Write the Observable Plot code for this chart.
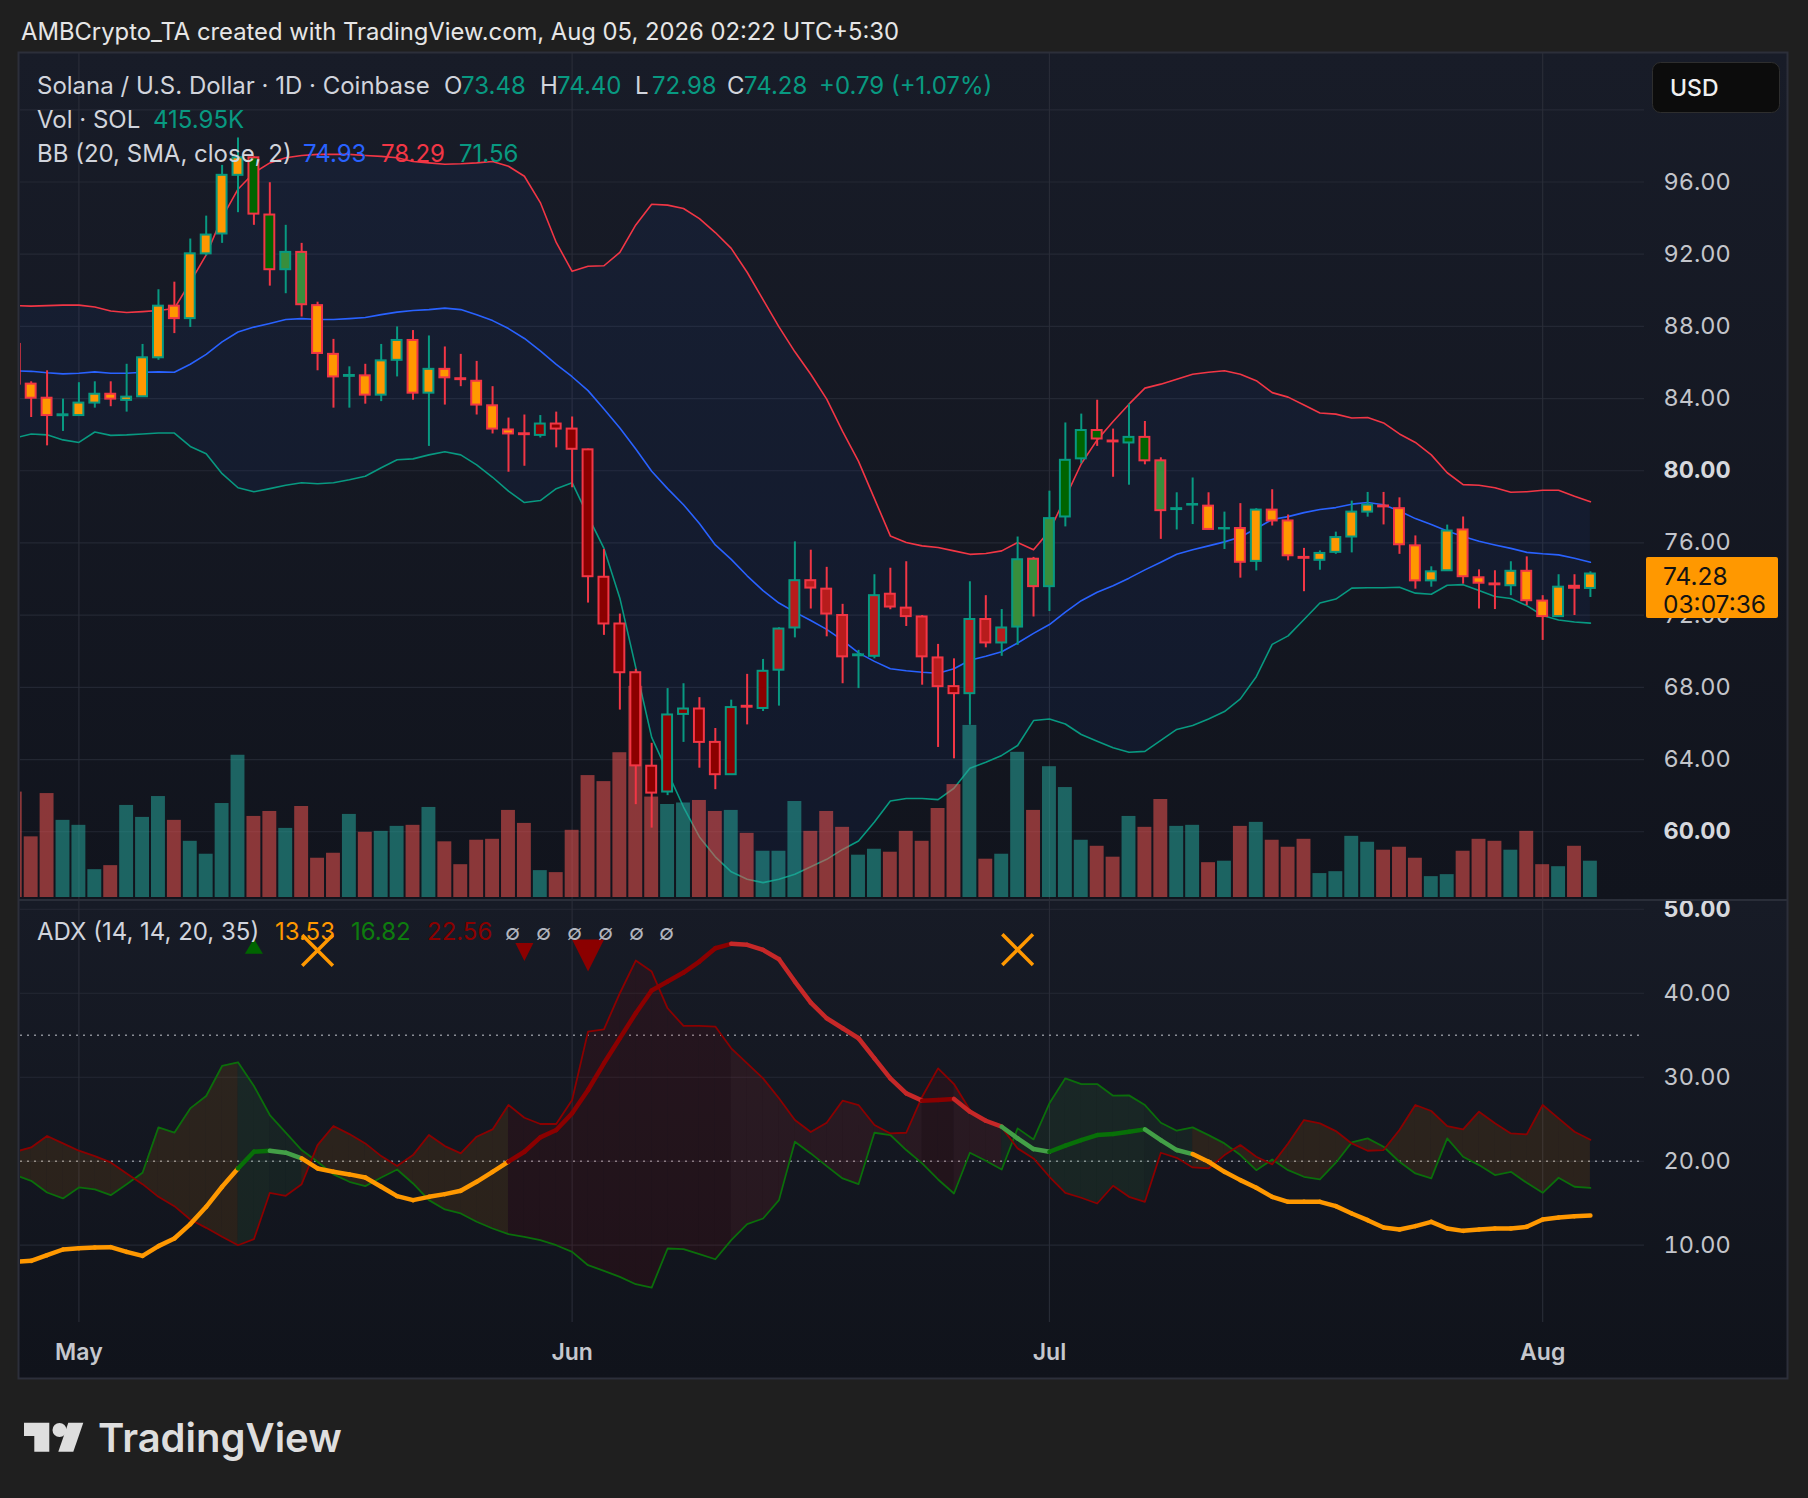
<!DOCTYPE html>
<html><head><meta charset="utf-8">
<script src="https://cdn.jsdelivr.net/npm/d3@7"></script>
<script src="https://cdn.jsdelivr.net/npm/@observablehq/plot@0.6"></script>
<style>
html,body{margin:0;padding:0;background:#1f1f1f;}
#root{position:relative;width:1808px;height:1498px;overflow:hidden;background:#1f1f1f;font-family:Inter,"Noto Sans",sans-serif;}
#root svg{position:absolute;left:0;}
.pane{position:absolute;}
</style></head><body><div id="root"></div>
<script>
// ---------------- DATA ----------------
const startDay = "2026-04-27"; // daily candles, one per day
const open = [87.0,84.8,84.02,83.05,83.06,83.75,84.24,83.9,84.1,86.26,
89.12,88.43,92.02,93.12,96.37,97.34,94.17,91.14,92.1,89.15,
86.45,85.23,85.26,84.19,86.12,87.22,84.3,85.62,85.1,84.96,
83.6,82.26,82.05,81.96,82.59,82.31,81.16,74.1,71.51,68.81,
63.63,62.2,66.5,66.8,64.95,63.16,66.95,66.83,68.95,71.29,
73.91,73.44,71.98,69.75,69.72,73.16,72.39,71.9,69.63,68.04,
67.65,71.76,70.46,71.34,75.1,73.58,77.44,80.66,82.23,81.65,
81.54,81.85,80.55,77.85,78.1,78.04,76.78,76.8,74.98,77.82,
77.22,75.2,75.04,75.48,76.33,77.71,78.05,77.9,75.84,73.9,
74.46,76.72,74.07,73.73,73.63,74.43,72.78,71.92,73.6,73.48];
const high = [87.3,84.93,85.54,83.97,84.88,84.93,84.93,85.9,87.0,90.03,
90.45,92.84,94.11,96.92,98.44,97.4,95.96,93.6,92.6,89.34,
87.28,85.76,85.9,87.0,87.97,87.77,87.47,86.86,86.45,86.06,
84.66,82.92,83.09,83.06,83.25,82.98,81.2,75.64,72.06,69.0,
64.9,67.93,68.2,67.43,65.72,67.29,68.72,69.55,71.3,76.06,
75.6,74.65,72.6,70.05,74.24,74.6,74.96,71.98,70.38,69.58,
73.85,73.08,72.31,76.33,75.2,78.87,82.65,83.14,83.91,82.31,
83.69,82.73,80.72,78.78,79.6,78.78,77.71,78.18,77.9,78.95,
77.55,75.7,75.56,76.6,78.32,78.8,78.8,78.5,76.39,74.68,
76.99,77.44,74.51,74.46,74.96,75.23,73.08,74.24,74.24,74.40];
const low = [84.5,82.95,81.38,82.18,83.06,83.47,83.55,83.25,84.1,86.12,
87.6,87.94,91.9,92.6,94.3,93.6,90.23,89.81,88.52,85.54,
83.47,83.47,83.69,83.83,85.2,83.91,81.35,83.64,84.66,83.09,
82.04,79.92,80.25,81.82,81.27,79.06,72.67,70.88,66.74,61.5,
60.2,62.0,64.95,63.52,62.33,63.16,65.92,66.66,66.96,70.74,
72.34,70.8,68.2,67.93,69.58,72.3,71.37,68.12,64.67,64.04,
65.9,70.19,69.72,70.33,71.9,72.2,76.89,80.39,81.35,79.64,
79.2,80.33,76.2,76.72,77.02,76.75,75.64,74.05,74.45,76.94,
75.01,73.3,74.49,75.37,75.45,77.43,77.0,75.37,73.44,73.55,
74.46,73.72,72.34,72.31,73.08,72.53,70.6,71.92,71.98,72.98];
const close = [84.8,84.02,83.06,83.1,83.75,84.24,83.97,84.08,86.26,89.12,
88.43,92.02,93.06,96.37,97.34,94.22,91.14,92.1,89.2,86.5,
85.2,85.28,84.19,86.09,87.22,84.3,85.62,85.15,85.05,83.64,
82.31,82.04,82.0,82.59,82.31,81.19,74.13,71.51,68.81,63.65,
62.14,66.47,66.8,64.95,63.16,66.88,66.9,68.89,71.23,73.91,
73.5,72.06,69.69,69.8,73.08,72.45,71.92,69.69,68.04,67.65,
71.76,70.46,71.29,75.07,73.58,77.35,80.58,82.23,81.76,81.6,
81.85,80.55,77.79,77.9,78.13,76.75,76.8,74.93,77.82,77.22,
75.29,75.15,75.42,76.3,77.71,78.1,78.0,75.9,73.9,74.4,
76.66,74.13,73.77,73.68,74.43,72.8,71.92,73.55,73.49,74.28];
// volume in thousand SOL
const volumeK = [1208,695,1191,884,827,319,365,1055,918,1157,
884,644,496,1077,1630,929,986,792,1043,450,
507,952,747,758,815,827,1032,638,376,656,
667,998,849,308,285,770,1397,1328,1659,2420,
1151,1066,1083,1112,986,998,735,530,530,1100,
758,986,804,485,553,519,758,644,1020,1294,
1972,439,496,1664,998,1499,1260,656,587,462,
929,804,1123,815,827,399,416,815,861,656,
576,667,274,296,701,633,542,576,450,239,
262,530,667,644,542,758,376,353,587,415.95];
// candle body colour code: o orange, G dark green, g green, R dark red, r red
const bodyCode = ("ooooooooooooooo"+"GG"+"gg"+"oooooooooooooo"+"RRRRRRRRRRRRRRR"+
  "rrrrrrrrrrr"+"R"+"rrr"+"ggg"+"GGGGGG"+"ggg"+"ooooooooooooooooooooooooo").split("");
const bbUpper = [89.15,89.12,89.15,89.18,89.18,89.07,88.85,88.77,88.82,88.88,
88.99,90.45,91.96,94.03,95.60,96.51,97.06,97.34,97.47,97.53,
97.53,97.53,97.47,97.42,97.34,97.14,97.06,96.98,97.01,97.06,
97.14,96.87,96.32,94.86,92.65,91.05,91.33,91.36,92.10,93.62,
94.77,94.72,94.53,93.97,93.20,92.32,91.00,89.48,87.97,86.59,
85.35,83.97,82.18,80.52,78.46,76.39,76.03,75.84,75.75,75.56,
75.37,75.42,75.56,76.03,75.62,76.67,78.51,80.39,81.71,82.73,
83.69,84.58,84.80,85.07,85.35,85.46,85.54,85.35,84.99,84.33,
84.08,83.64,83.20,83.14,82.92,82.95,82.65,82.04,81.57,80.88,
79.89,79.23,79.20,79.06,78.81,78.84,78.92,78.92,78.59,78.29];
const bbBasis = [85.54,85.51,85.43,85.37,85.40,85.48,85.40,85.40,85.46,85.48,
85.46,85.90,86.45,87.14,87.69,87.96,88.16,88.38,88.43,88.38,
88.38,88.43,88.49,88.65,88.79,88.88,88.93,89.01,88.93,88.65,
88.32,87.88,87.33,86.64,85.90,85.21,84.44,83.42,82.37,81.21,
79.97,79.01,78.12,77.08,75.89,75.09,74.18,73.36,72.67,72.17,
71.70,71.21,70.60,69.91,69.44,69.03,68.92,68.84,68.78,69.03,
69.50,69.72,69.97,70.46,70.99,71.48,72.17,72.80,73.27,73.63,
74.05,74.51,74.93,75.37,75.62,75.84,76.06,76.33,76.80,77.30,
77.46,77.68,77.85,77.96,78.15,78.24,78.12,77.77,77.35,77.02,
76.66,76.36,76.09,75.89,75.70,75.48,75.40,75.34,75.15,74.93];
const bbLower = [81.82,82.04,81.99,81.71,81.57,82.15,81.96,81.99,82.04,82.09,
82.09,81.35,80.94,79.84,79.06,78.84,79.01,79.20,79.34,79.28,
79.34,79.50,79.70,80.17,80.61,80.66,80.88,81.05,80.88,80.33,
79.64,78.87,78.24,78.35,79.01,79.34,77.49,75.70,72.94,69.09,
65.23,63.30,61.37,59.71,58.61,57.78,57.37,57.18,57.37,57.65,
58.06,58.47,59.02,59.49,60.54,61.70,61.84,61.84,61.78,62.41,
63.52,63.85,64.23,64.78,66.16,66.25,65.97,65.39,65.01,64.65,
64.40,64.45,65.06,65.67,65.89,66.25,66.66,67.36,68.59,70.38,
70.85,71.76,72.67,72.89,73.50,73.52,73.52,73.55,73.22,73.16,
73.66,73.69,73.36,73.03,72.92,72.53,71.98,71.73,71.62,71.56];
const adx = [8.02,8.14,8.81,9.49,9.65,9.73,9.77,9.21,8.73,9.89,
10.80,12.51,14.57,16.96,19.14,21.13,21.25,21.01,20.33,19.14,
18.74,18.43,18.07,16.96,15.84,15.37,15.76,16.08,16.48,17.55,
18.74,19.95,21.13,22.84,23.71,25.70,28.48,31.66,34.64,37.62,
40.32,41.39,42.46,43.77,45.36,45.88,45.76,45.16,44.05,41.39,
38.89,37.02,35.83,34.64,32.25,29.87,28.08,27.21,27.29,27.41,
25.90,24.82,24.11,22.72,21.45,21.13,21.86,22.52,23.11,23.23,
23.51,23.79,22.52,21.33,20.85,19.94,18.74,17.75,16.84,15.76,
15.17,15.17,15.17,14.65,13.78,12.98,12.11,11.87,12.27,12.78,
11.99,11.71,11.87,11.99,11.99,12.19,13.06,13.30,13.46,13.53];
const diPlus = [18.35,17.67,16.28,15.57,16.88,16.64,15.96,17.27,18.63,24.03,
23.40,26.29,27.76,31.34,31.78,28.96,25.50,23.40,21.33,19.94,
18.43,17.55,17.04,18.07,19.02,17.35,15.37,14.26,13.78,12.79,
11.99,11.31,11.00,10.60,10.00,9.21,7.62,6.94,6.23,5.36,
4.96,9.61,9.53,8.93,8.33,10.60,12.51,13.18,15.37,22.32,
20.93,19.42,17.95,17.27,23.39,23.12,21.33,19.74,17.83,16.16,
21.01,20.06,19.02,23.91,22.60,26.89,29.87,29.19,29.19,27.80,
27.84,26.69,24.58,23.63,24.03,23.11,22.12,20.73,18.94,20.21,
18.94,18.15,17.83,19.82,22.24,22.72,21.72,19.94,18.55,17.95,
22.72,20.53,19.54,18.35,18.74,17.43,16.24,18.03,16.96,16.82];
const diMinus = [21.13,21.64,23.00,22.12,21.25,20.61,19.86,18.55,17.27,15.76,
14.65,13.06,12.07,11.00,10.00,10.72,16.24,15.88,17.27,21.92,
24.19,23.23,22.12,20.61,19.42,20.73,23.12,21.80,20.93,22.92,
23.79,26.69,25.18,24.43,24.43,27.29,35.43,35.71,40.00,43.89,
42.58,38.21,36.11,36.11,36.03,33.44,31.66,29.87,27.49,24.90,
23.47,24.58,27.21,26.69,24.31,23.31,23.39,27.68,31.06,29.19,
26.09,24.82,24.03,21.53,20.33,18.15,16.24,15.65,14.97,17.08,
15.76,15.17,21.01,20.41,19.26,19.14,20.73,21.92,20.53,19.62,
22.12,24.90,24.51,23.59,22.12,21.25,21.33,23.71,26.69,25.98,
24.19,23.79,25.90,24.51,23.31,23.19,26.69,25.10,23.51,22.56];
const signalDate = ["2026-05-12","2026-05-16","2026-05-29","2026-06-02","2026-06-29"];
const signalType = ["up","cross","down","downBig","cross"];
const signalY = [45.6,45.1,44.9,44.5,45.2];
const monthTicks = ["2026-05-01","2026-06-01","2026-07-01","2026-08-01"];
const priceGrid = [60,64,68,72,76,80,84,88,92,96,100];
const priceTicks = [64,68,72,76,84,88,92,96];
const priceTicksBold = [60,80];
const adxGrid = [10,20,30,40,50];
const adxTicks = [10,20,30,40];
const adxTicksBold = [50];
const adxLevels = [35,20];

// ---------------- BUILD ----------------
const DAY = 864e5;
const day0 = new Date(startDay + "T00:00:00Z");
const months = monthTicks.map(s => new Date(s + "T00:00:00Z"));
const UP = "#089981", DN = "#f23645";
const BODY = {o:"#ff9800", G:"#006400", g:"#388e3c", R:"#8b0000", r:"#b71c1c"};
const rows = open.map((o, i) => ({
  date: new Date(+day0 + i * DAY), open: o, high: high[i], low: low[i], close: close[i],
  vol: volumeK[i], body: bodyCode[i], up: close[i] >= o,
  bbU: bbUpper[i], bbM: bbBasis[i], bbL: bbLower[i],
  adx: adx[i], dip: diPlus[i], dim: diMinus[i]
}));
rows.forEach((r, i) => {
  const prev = i > 0 ? adx[i - 1] : adx[i];
  r.state = adx[i] < 20 ? "weak" : diPlus[i] > diMinus[i]
    ? (adx[i] >= prev ? "bullUp" : "bullDn") : (adx[i] >= prev ? "bearUp" : "bearDn");
});
const LINE = {weak:"#ff9800", bullUp:"#087008", bullDn:"#43a047", bearUp:"#8b0000", bearDn:"#c62828"};
const FILL = {weak:"rgba(255,152,0,0.10)", bullUp:"rgba(76,175,80,0.10)", bullDn:"rgba(76,175,80,0.08)",
  bearUp:"rgba(139,0,0,0.13)", bearDn:"rgba(198,40,40,0.12)"};
const segs = d3.pairs(rows).map(([a, b], i) => ({a, b, i, state: b.state}));
const fillRows = segs.flatMap(s => [
  {date: s.a.date, p: s.a.dip, m: s.a.dim, seg: s.i, state: s.state},
  {date: s.b.date, p: s.b.dip, m: s.b.dim, seg: s.i, state: s.state}]);
const signals = signalDate.map((d, i) => ({date: new Date(d + "T00:00:00Z"), type: signalType[i], y: signalY[i]}));

const root = document.getElementById("root");
function pane(left, top, w, h, bg) {
  const d = document.createElement("div"); d.className = "pane";
  Object.assign(d.style, {left: left + "px", top: top + "px", width: w + "px", height: h + "px", background: bg});
  root.appendChild(d);
}
pane(19, 53, 1768, 847, "linear-gradient(to bottom,#181c28,#11141d)");
pane(19, 901, 1768, 477, "linear-gradient(to bottom,#171b26,#10131b)");

const xDomain = [new Date(Date.UTC(2026, 3, 27, 7, 54)), new Date(Date.UTC(2026, 7, 7, 9, 36))];
const FONT = "Inter, 'Noto Sans', sans-serif";
const AX = 23.5;
function base(o) {
  return Object.assign({
    width: 1808, marginLeft: 20, marginRight: 164, marginTop: 0,
    style: {background: "transparent", overflow: "visible", fontFamily: FONT, fontSize: AX + "px", color: "#c3c5cb"},
    color: {type: "identity"}
  }, o);
}
function place(svg, top) { svg.style.position = "absolute"; svg.style.left = "0px"; svg.style.top = top + "px"; root.appendChild(svg); }
const half = DAY / 2;

// price pane: grid + Bollinger bands + price axis
place(Plot.plot(base({
  height: 847, marginBottom: 0,
  x: {type: "utc", domain: xDomain, axis: null},
  y: {domain: [56.19, 103.12]},
  marks: [
    Plot.gridY(priceGrid, {stroke: "#2a2e39", strokeOpacity: 0.75, strokeWidth: 1.2}),
    Plot.gridX(months, {stroke: "#2a2e39", strokeOpacity: 0.9, strokeWidth: 1.2}),
    Plot.areaY(rows, {x: "date", y1: "bbL", y2: "bbU", fill: "#2962ff", fillOpacity: 0.06, clip: true}),
    Plot.line(rows, {x: "date", y: "bbU", stroke: DN, strokeWidth: 1.6, clip: true}),
    Plot.line(rows, {x: "date", y: "bbM", stroke: "#2962ff", strokeWidth: 1.6, clip: true}),
    Plot.line(rows, {x: "date", y: "bbL", stroke: UP, strokeWidth: 1.6, clip: true}),
    Plot.axisY(priceTicks, {anchor: "right", tickSize: 0, tickPadding: 19, tickFormat: d => d.toFixed(2), fontSize: AX, fill: "#c3c5cb", label: null}),
    Plot.axisY(priceTicksBold, {anchor: "right", tickSize: 0, tickPadding: 19, tickFormat: d => d.toFixed(2), fontSize: AX, fontWeight: "bold", fill: "#d6d8dd", label: null})
  ]
})), 53);

// volume
place(Plot.plot(base({
  height: 847, marginBottom: 3,
  x: {type: "utc", domain: xDomain, axis: null},
  y: {domain: [0, 9672], axis: null},
  marks: [
    Plot.rectY(rows, {x1: d => new Date(+d.date - half), x2: d => new Date(+d.date + half), y: "vol",
      fill: d => d.up ? "#26a69a" : "#ef5350", insetLeft: 1, insetRight: 1, clip: true, opacity: 0.55})
  ]
})), 53);

// candles
place(Plot.plot(base({
  height: 847, marginBottom: 0,
  x: {type: "utc", domain: xDomain, axis: null},
  y: {domain: [56.19, 103.12], axis: null},
  marks: [
    Plot.ruleX(rows, {x: "date", y1: "low", y2: "high", stroke: d => d.up ? UP : DN, strokeWidth: 2, clip: true}),
    Plot.rect(rows, {x1: d => new Date(+d.date - half), x2: d => new Date(+d.date + half), y1: "open", y2: "close",
      fill: d => BODY[d.body], stroke: d => d.up ? UP : DN, strokeWidth: 2, insetLeft: 3, insetRight: 3, clip: true})
  ]
})), 53);

// ADX pane
const triDown = {draw(ctx, size) { const r = Math.sqrt(size / Math.PI); ctx.moveTo(-r, -r); ctx.lineTo(r, -r); ctx.lineTo(0, r); ctx.closePath(); }};
const triUp = {draw(ctx, size) { const r = Math.sqrt(size / Math.PI); ctx.moveTo(-r, 0.85 * r); ctx.lineTo(r, 0.85 * r); ctx.lineTo(0, -0.85 * r); ctx.closePath(); }};
place(Plot.plot(base({
  height: 478, marginBottom: 56,
  x: {type: "utc", domain: xDomain},
  y: {domain: [0.80, 51.04]},
  marks: [
    Plot.gridY(adxGrid, {stroke: "#2a2e39", strokeOpacity: 0.75, strokeWidth: 1.2}),
    Plot.gridX(months, {stroke: "#2a2e39", strokeOpacity: 0.9, strokeWidth: 1.2}),
    Plot.ruleY(adxLevels, {stroke: "#8a8d96", strokeDasharray: "2,5", strokeWidth: 1.6}),
    Plot.areaY(fillRows, {x: "date", y1: "p", y2: "m", z: "seg", fill: d => FILL[d.state], clip: true}),
    Plot.line(rows, {x: "date", y: "dip", stroke: "#0b6e0b", strokeWidth: 1.8, clip: true}),
    Plot.line(rows, {x: "date", y: "dim", stroke: "#8b0000", strokeWidth: 1.8, clip: true}),
    Plot.link(segs, {x1: d => d.a.date, y1: d => d.a.adx, x2: d => d.b.date, y2: d => d.b.adx,
      stroke: d => LINE[d.state], strokeWidth: 4.5, strokeLinecap: "round", clip: true}),
    Plot.dot(signals.filter(d => d.type === "up"), {x: "date", y: "y", symbol: triUp, r: 9, fill: "#006400", stroke: null}),
    Plot.dot(signals.filter(d => d.type === "down"), {x: "date", y: "y", symbol: triDown, r: 9, fill: "#8b0000", stroke: null}),
    Plot.dot(signals.filter(d => d.type === "downBig"), {x: "date", y: "y", symbol: triDown, r: 16, fill: "#8b0000", stroke: null}),
    Plot.dot(signals.filter(d => d.type === "cross"), {x: "date", y: "y", symbol: "times", r: 14, stroke: "#ff9800", strokeWidth: 3.5, fill: "none"}),
    Plot.axisY(adxTicks, {anchor: "right", tickSize: 0, tickPadding: 19, tickFormat: d => d.toFixed(2), fontSize: AX, fill: "#c3c5cb", label: null}),
    Plot.axisY(adxTicksBold, {anchor: "right", tickSize: 0, tickPadding: 19, tickFormat: d => d.toFixed(2), fontSize: AX, fontWeight: "bold", fill: "#d6d8dd", label: null}),
    Plot.axisX(months, {tickSize: 0, tickPadding: 21, tickFormat: d3.utcFormat("%b"), fontSize: 23, fontWeight: 600, fill: "#c5c7cd", label: null})
  ]
})), 900);

// ---------------- overlay: texts, frame, labels ----------------
const ov = d3.select(root).append("svg").attr("width", 1808).attr("height", 1498)
  .style("position", "absolute").style("left", "0px").style("top", "0px").style("pointer-events", "none");
function txt(x, y, s, fill, size = 24, weight = 400, anchor = "start") {
  return ov.append("text").attr("x", x).attr("y", y).attr("fill", fill).attr("font-size", size)
    .attr("font-weight", weight).attr("text-anchor", anchor).attr("font-family", FONT).text(s);
}
ov.append("rect").attr("x", 18.5).attr("y", 52.5).attr("width", 1769).attr("height", 1326)
  .attr("fill", "none").attr("stroke", "#2c2f3a").attr("stroke-width", 2);
ov.append("line").attr("x1", 19).attr("x2", 1787).attr("y1", 900).attr("y2", 900).attr("stroke", "#2a2e39").attr("stroke-width", 2);

const L = "#d1d4dc", T = "#089981";
const last = rows.length - 1;
const f2 = v => v.toFixed(2);
txt(21, 40, "AMBCrypto_TA created with TradingView.com, Aug 05, 2026 02:22 UTC+5:30", "#e6e6e6", 23.8);
txt(37, 94, "Solana / U.S. Dollar · 1D · Coinbase", L);
txt(444, 94, "O", L); txt(461, 94, f2(open[last]), T);
txt(540, 94, "H", L); txt(557, 94, f2(high[last]), T);
txt(635, 94, "L", L); txt(652, 94, f2(low[last]), T);
txt(727, 94, "C", L); txt(744, 94, f2(close[last]), T);
const chg = close[last] - close[last - 1];
txt(819, 94, (chg >= 0 ? "+" : "") + f2(chg) + " (" + (chg >= 0 ? "+" : "") + f2(chg / close[last - 1] * 100) + "%)", T);
txt(37, 128, "Vol · SOL", L); txt(153, 128, f2(volumeK[last]) + "K", T);
txt(37, 162, "BB (20, SMA, close, 2)", L);
txt(303, 162, f2(bbBasis[last]), "#2962ff"); txt(381, 162, f2(bbUpper[last]), DN); txt(459, 162, f2(bbLower[last]), T);
txt(37, 940, "ADX (14, 14, 20, 35)", L);
txt(275, 940, f2(adx[last]), "#ff9800"); txt(351, 940, f2(diPlus[last]), "#0e7c0e"); txt(427, 940, f2(diMinus[last]), "#8b0000");
[505, 536, 567, 598, 629, 659].forEach(x => txt(x, 940, "∅", "#b2b5be", 22));

// USD button
ov.append("rect").attr("x", 1652.5).attr("y", 62.5).attr("width", 127).attr("height", 50).attr("rx", 8)
  .attr("fill", "#0c0c0c").attr("stroke", "#2e2e2e").attr("stroke-width", 1);
txt(1670, 96, "USD", "#f0f0f0", 23, 500);
// last price label
ov.append("rect").attr("x", 1646).attr("y", 557).attr("width", 132).attr("height", 61).attr("rx", 2).attr("fill", "#ff9800");
txt(1663, 585, f2(close[last]), "#131313", 24.5);
txt(1663, 613, "03:07:36", "#131313", 24.5);

// TradingView logo
ov.append("path").attr("d", "M24 1422.7 H49.3 V1451.7 H34.3 V1436 H24 Z").attr("fill", "#dedede");
ov.append("circle").attr("cx", 59.5).attr("cy", 1430).attr("r", 7).attr("fill", "#dedede");
ov.append("path").attr("d", "M68.3 1422.7 H83.3 L73.3 1451.7 H58.3 Z").attr("fill", "#dedede");
txt(98, 1451.7, "TradingView", "#dedede", 40, 600);
</script></body></html>
